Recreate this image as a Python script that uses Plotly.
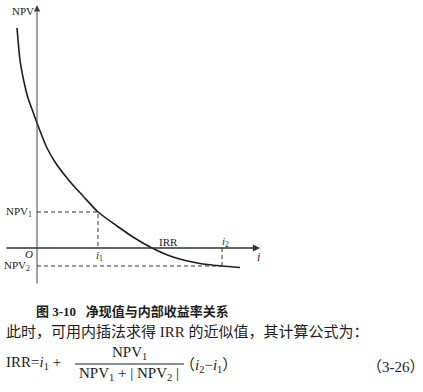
import plotly.graph_objects as go

# ---- data ----
rate = [-2.0, -1.7, -1.3, -0.9, -0.4, 0.0, 0.5, 1.0, 1.8, 2.6, 3.5, 4.6,
        6.1, 8.0, 9.6, 11.5, 13.6, 16.3, 18.5, 20.3]
npv = [220, 188, 166, 150, 136, 125, 112, 100, 86, 75, 64, 52,
       36, 22, 11, 0, -9, -15.5, -18, -19.5]
i1, npv1 = 6.1, 36
irr_val = 11.5
i2, npv2 = 18.5, -18
x_axis_ext = [-3.2, 22.3]
y_axis_ext = [-37, 243]

W, H = 423, 392
SERIF = "Liberation Serif, Noto Sans CJK SC, serif"
INK = "#1c1c1c"


def px(x):
    return x / W


def py(y):
    return 1 - y / H


fig = go.Figure()

# NPV curve
fig.add_trace(go.Scatter(x=rate, y=npv, mode="lines",
                         line=dict(color=INK, width=1.6, shape="spline", smoothing=0.6),
                         hoverinfo="skip"))

dash = dict(color="#333", width=1, dash="4px,3px")
# NPV1 guides
fig.add_trace(go.Scatter(x=[0, i1, i1], y=[npv1, npv1, 0], mode="lines",
                         line=dash, hoverinfo="skip"))
# NPV2 guides
fig.add_trace(go.Scatter(x=[0, i2], y=[npv2, npv2], mode="lines",
                         line=dash, hoverinfo="skip"))
fig.add_trace(go.Scatter(x=[i2, i2], y=[0, npv2], mode="lines",
                         line=dash, hoverinfo="skip"))

ann = []
# axes with arrows
ann.append(dict(x=0, y=y_axis_ext[1], ax=0, ay=y_axis_ext[0], xref="x", yref="y",
                axref="x", ayref="y", showarrow=True, arrowhead=2, arrowsize=1.3,
                arrowwidth=1, arrowcolor="#444", text=""))
ann.append(dict(x=x_axis_ext[1], y=0, ax=x_axis_ext[0], ay=0, xref="x", yref="y",
                axref="x", ayref="y", showarrow=True, arrowhead=2, arrowsize=1.1,
                arrowwidth=1.3, arrowcolor="#333", text=""))


def lab(text, x, y, size=11, xanchor="center", yanchor="middle"):
    ann.append(dict(x=x, y=y, xref="x", yref="y", text=text, showarrow=False,
                    xanchor=xanchor, yanchor=yanchor,
                    font=dict(family=SERIF, size=size, color=INK)))


lab("NPV", -1.4, 237, size=11)
lab("NPV<sub>1</sub>", -0.35, npv1, xanchor="right")
lab("NPV<sub>2</sub>", -0.55, npv2 + 0.5, xanchor="right")
lab("<i>O</i>", -0.25, -5.5, xanchor="right")
lab("<i>i</i><sub>1</sub>", i1 + 0.15, -8)
lab("IRR", irr_val + 1.6, 6)
lab("<i>i</i><sub>2</sub>", i2 + 0.35, 6)
lab("<i>i</i>", 22.1, -9, size=12)


def txt(text, x, y, size=14, xanchor="left", family=SERIF):
    ann.append(dict(x=px(x), y=py(y), xref="paper", yref="paper", text=text,
                    showarrow=False, xanchor=xanchor, yanchor="middle",
                    font=dict(family=family, size=size, color=INK)))


txt("<b>图 3-10   净现值与内部收益率关系</b>", 34, 311, size=13)
txt("此时，可用内插法求得 IRR 的近似值，其计算公式为：", 4, 331, size=15)
txt("IRR=<i>i</i><sub>1</sub> +", 4, 363, size=15)
txt("NPV<sub>1</sub>", 129, 353, size=15, xanchor="center")
txt("NPV<sub>1</sub> + | NPV<sub>2</sub> |", 129, 374, size=15, xanchor="center")
txt("（<i>i</i><sub>2</sub>−<i>i</i><sub>1</sub>）", 178, 366, size=15)
txt("（3-26）", 427, 367, size=15, xanchor="right")

fig.update_layout(
    width=W, height=H, margin=dict(l=0, r=0, t=0, b=0),
    paper_bgcolor="white", plot_bgcolor="white", showlegend=False,
    xaxis=dict(range=[-3.7, 38.6], visible=False, fixedrange=True),
    yaxis=dict(range=[-144, 248], visible=False, fixedrange=True),
    annotations=ann,
    shapes=[dict(type="line", xref="paper", yref="paper",
                 x0=px(75), x1=px(184), y0=py(364), y1=py(364),
                 line=dict(color=INK, width=1))],
)

fig.write_html("out.html", config={"displayModeBar": False},
               post_script="document.body.style.margin='0';document.body.style.padding='0';")
